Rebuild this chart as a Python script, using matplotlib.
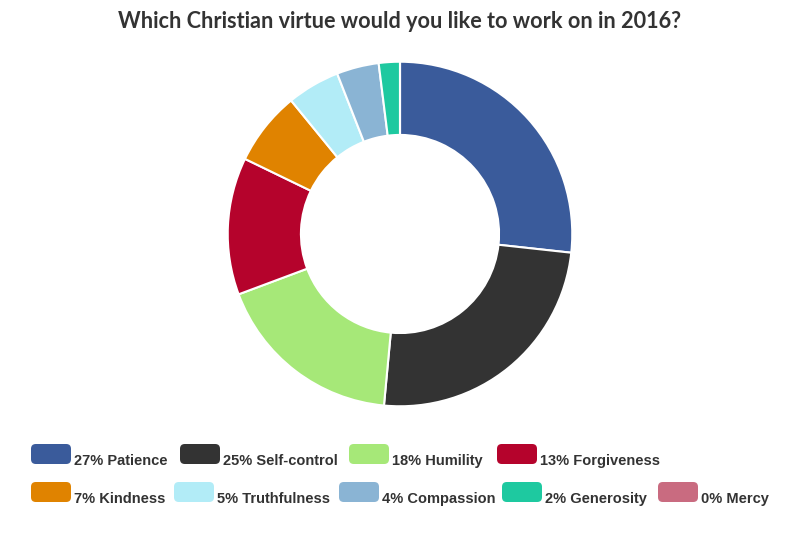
import matplotlib
matplotlib.use("Agg")
import matplotlib.pyplot as plt
from matplotlib.patches import FancyBboxPatch

title = "Which Christian virtue would you like to work on in 2016?"
virtues = ["Patience", "Self-control", "Humility", "Forgiveness", "Kindness",
           "Truthfulness", "Compassion", "Generosity", "Mercy"]
percents = [27, 25, 18, 13, 7, 5, 4, 2, 0]
colors = ["#3a5b9b", "#333333", "#a6e878", "#b5032c", "#e08300",
          "#b2ecf7", "#8ab4d4", "#1ec9a0", "#c96b80"]

W, H = 800, 533
fig = plt.figure(figsize=(8, 5.33), dpi=100)

# donut
ax = fig.add_axes([226 / W, (H - 408) / H, 348 / W, 348 / H])
ax.pie(percents, colors=colors, startangle=90, counterclock=False, radius=1,
       wedgeprops=dict(width=0.425, edgecolor="white", linewidth=1.5))
ax.set_xlim(-1.01, 1.01)
ax.set_ylim(-1.01, 1.01)
ax.set_aspect("equal")
ax.axis("off")

fig.text(0.5, 1 - 21 / H, title, ha="center", va="center", fontsize=15.6,
         fontweight="bold", color="#333333", family="Lato")

# legend, two rows
row_items = [[0, 1, 2, 3], [4, 5, 6, 7, 8]]
row_x = [[31, 180, 349, 497], [31, 174, 339, 502, 658]]
row_y = [454, 492]
for items, xs, yc in zip(row_items, row_x, row_y):
    for i, x in zip(items, xs):
        sw = FancyBboxPatch((x / W, (H - yc - 10) / H), 40 / W, 20 / H,
                            boxstyle="round,pad=0,rounding_size=0.006",
                            transform=fig.transFigure, facecolor=colors[i],
                            edgecolor="none", mutation_aspect=W / H)
        fig.patches.append(sw)
        fig.text((x + 43) / W, 1 - (yc + 7) / H, f"{percents[i]}% {virtues[i]}",
                 ha="left", va="center", fontsize=10.5, fontweight="bold",
                 color="#333333", family="Liberation Sans")

fig.savefig("out.png", dpi=100)
